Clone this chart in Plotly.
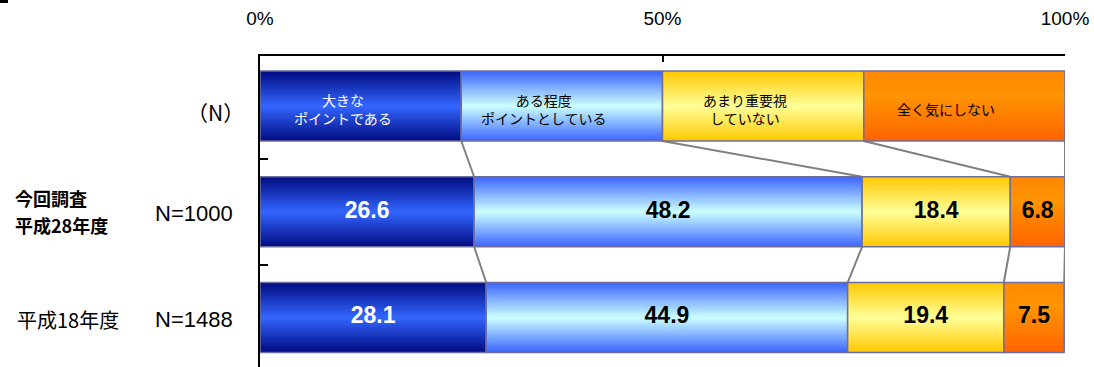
import plotly.graph_objects as go

# Response categories (legend row) and survey results
categories = ["大きな<br>ポイントである", "ある程度<br>ポイントとしている",
              "あまり重要視<br>していない", "全く気にしない"]
legend_share = [25, 25, 25, 25]
survey_h28 = [26.6, 48.2, 18.4, 6.8]
survey_h18 = [28.1, 44.9, 19.4, 7.5]
current_label = ["今回調査", "平成28年度"]
previous_label = "平成18年度"
row_counts = ["N=1000", "N=1488"]
tick_vals = [0, 50, 100]
tick_text = ["0%", "50%", "100%"]

# Vertical gradients for each category
gradients = [
    [[0, "#000a80"], [0.5, "#3366ff"], [1, "#000a80"]],
    [[0, "#3a64ff"], [0.5, "#ccffff"], [1, "#3a64ff"]],
    [[0, "#ffc800"], [0.5, "#ffff99"], [1, "#ffc800"]],
    [[0, "#ff6400"], [0.65, "#ff9400"], [1, "#ff8800"]],
]
text_colors = ["white", "black", "black", "black"]
edge_color = "#6e6e9e"
half = 0.331

rows = [legend_share, survey_h28, survey_h18]
fig = go.Figure()


def cumulative(vals):
    out, s = [0], 0
    for v in vals:
        s += v
        out.append(s)
    return out


# Connector lines between consecutive rows at each cumulative boundary
for r in range(1, len(rows)):
    prev_c = cumulative(rows[r - 1])
    cur_c = cumulative(rows[r])
    for i in range(1, len(prev_c)):
        fig.add_trace(go.Scatter(
            x=[prev_c[i], cur_c[i]], y=[r - 1 + half, r - half],
            mode="lines", line=dict(color="#808080", width=2),
            hoverinfo="skip", showlegend=False))

# Stacked segments with gradient fills
for r, vals in enumerate(rows):
    c = cumulative(vals)
    for i, v in enumerate(vals):
        x0, x1 = c[i], c[i + 1]
        fig.add_trace(go.Scatter(
            x=[x0, x1, x1, x0, x0],
            y=[r - half, r - half, r + half, r + half, r - half],
            mode="lines", fill="toself",
            fillgradient=dict(type="vertical", colorscale=gradients[i]),
            line=dict(color=edge_color, width=1.5),
            hoverinfo="skip", showlegend=False))

# Value labels
for r, vals in enumerate([survey_h28, survey_h18], start=1):
    c = cumulative(vals)
    fig.add_trace(go.Scatter(
        x=[(c[i] + c[i + 1]) / 2 for i in range(4)], y=[r] * 4,
        mode="text", text=[f"<b>{v:.1f}</b>" for v in vals],
        textfont=dict(family="Liberation Sans", size=23, color=text_colors),
        hoverinfo="skip", showlegend=False))

W, H = 1094, 367
L, R, T, B = 260, 29, 56, 0
pw, ph = W - L - R, H - T - B


def px(xp):
    return (xp - L) / pw


annotations = []

# Category names inside the legend row
lc = cumulative(legend_share)
for i, name in enumerate(categories):
    annotations.append(dict(
        x=(lc[i] + lc[i + 1]) / 2, y=0, xref="x", yref="y", text=name,
        xshift=-18, yshift=-3, showarrow=False,
        font=dict(family="Noto Sans CJK JP", size=14, color=text_colors[i])))

annotations.append(dict(
    x=px(246), y=0, xref="paper", yref="y", text="（N）", xanchor="right",
    yshift=-6, showarrow=False,
    font=dict(family="Noto Sans CJK JP", size=21, color="black")))

# Two-line bold label of the current survey
for k, line in enumerate(current_label):
    annotations.append(dict(
        x=px(13), y=1, xref="paper", yref="y", text=f"<b>{line}</b>",
        xanchor="left", yshift=14 - 27 * k, showarrow=False,
        font=dict(family="Noto Sans CJK JP", size=18, color="black")))

annotations.append(dict(
    x=px(68), y=2, xref="paper", yref="y", text=previous_label,
    xanchor="center", yshift=-2, showarrow=False,
    font=dict(family="Noto Sans CJK JP", size=20, color="black")))

for r, n in enumerate(row_counts, start=1):
    annotations.append(dict(
        x=px(235), y=r, xref="paper", yref="y", text=n, xanchor="right",
        yshift=-2, showarrow=False,
        font=dict(family="Liberation Sans", size=22, color="black")))

fig.update_layout(
    width=W, height=H,
    margin=dict(l=L, r=R, t=T, b=B, pad=0),
    paper_bgcolor="white", plot_bgcolor="white",
    annotations=annotations,
    shapes=[dict(type="rect", xref="paper", yref="paper",
                 x0=px(0), x1=px(8), y0=(H - 3 - B) / ph, y1=(H - B) / ph,
                 fillcolor="black", line=dict(width=0))],
    xaxis=dict(range=[0, 100], side="top", tickvals=tick_vals, ticktext=tick_text,
               showgrid=False, zeroline=False, showline=True, linecolor="black",
               linewidth=1.5, ticks="inside", ticklen=6, tickwidth=2,
               tickcolor="black", ticklabelstandoff=22,
               tickfont=dict(family="Liberation Sans", size=19, color="black")),
    yaxis=dict(range=[2.468, -0.473], showgrid=False, zeroline=False,
               showline=True, linecolor="black", linewidth=2,
               tickvals=[0.5, 1.5], ticks="inside", ticklen=8, tickwidth=2,
               tickcolor="black", showticklabels=False),
)

fig.write_html("out.html")
